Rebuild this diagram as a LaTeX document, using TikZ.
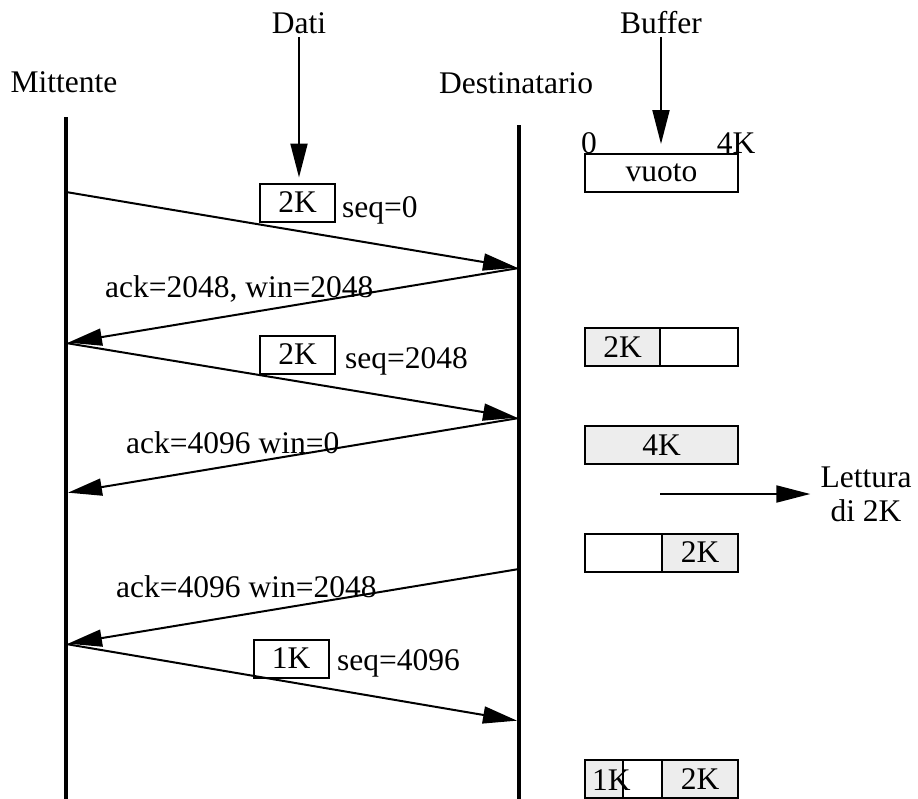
\documentclass[tikz,border=0pt]{standalone}
\usepackage{fontspec}
\setmainfont{Liberation Serif}
\usetikzlibrary{positioning,arrows.meta}
\definecolor{cellgray}{gray}{0.93}

\tikzset{
  msg/.style={line width=2pt, -{Triangle[length=34pt,width=17pt]}},
  life/.style={line width=4pt},
  pkt/.style={draw, line width=2pt, minimum width=75pt, minimum height=38pt, inner sep=0pt},
  cell/.style={draw, line width=2pt, minimum height=38pt, inner sep=0pt},
  lbl/.style={inner sep=0pt, anchor=base west},
}

\begin{document}
\begin{tikzpicture}[x=1pt, y=-1pt, font=\fontsize{31.5}{34}\selectfont]
  \useasboundingbox (0,0) rectangle (918,798);

  \node[anchor=base] (mitt) at (64,92) {Mittente};
  \node[anchor=base] (dest) at (516,93) {Destinatario};
  \node[anchor=base] (dati) at (299,33) {Dati};
  \node[anchor=base] (buf) at (661,33) {Buffer};

  \coordinate (mtop) at (66,117);
  \coordinate (mbot) at (66,802);
  \coordinate (dtop) at (519,125);
  \coordinate (dbot) at (519,802);
  \draw[life] (mtop) -- (mbot);
  \draw[life] (dtop) -- (dbot);

  \coordinate (m1) at (66,192);
  \coordinate (d1) at (519,268);
  \coordinate (m2) at (66,343);
  \coordinate (d2) at (519,418);
  \coordinate (m3) at (66,493);
  \coordinate (d3) at (519,569);
  \coordinate (m4) at (66,644);
  \coordinate (d4) at (519,721);

  \draw[msg, shorten >=2pt] (m1) -- (d1);
  \draw[msg, shorten >=2pt] (d1) -- (m2);
  \draw[msg, shorten >=2pt] (m2) -- (d2);
  \draw[msg, shorten >=2pt] (d2) -- (m3);
  \draw[msg, shorten >=2pt] (d3) -- (m4);
  \draw[msg, shorten >=2pt] (m4) -- (d4);

  \node[pkt] (p1) at (297.5,202.5) {2K};
  \node[lbl] (s1) at (342,217) {seq=0};
  \node[pkt] (p2) at (297.5,354.5) {2K};
  \node[lbl] (s2) at (345,368) {seq=2048};
  \node[pkt] (p3) at (291,658.5) {1K};
  \node[lbl] (s3) at (337,670) {seq=4096};

  \node[lbl] (a1) at (105,297) {ack=2048, win=2048};
  \node[lbl] (a2) at (126,453) {ack=4096 win=0};
  \node[lbl] (a3) at (116,597) {ack=4096 win=2048};

  \draw[msg, shorten >=5pt] (dati.south) -- (dati.south |- p1.north);

  \node[cell, minimum width=153pt] (b0) at (661.5,173) {vuoto};
  \node[anchor=base] (zero) at (589,153) {0};
  \node[anchor=base east] (full) at (759,153) {4K};
  \draw[msg, shorten >=9pt] (buf.south) -- (buf.south |- b0.north);

  \node[cell, fill=cellgray, minimum width=75pt] (b1a) at (622.5,347) {2K};
  \node[cell, minimum width=78pt] (b1b) at (699,347) {};

  \node[cell, fill=cellgray, minimum width=153pt] (b2) at (661.5,445) {4K};

  \node[cell, minimum width=77pt] (b3a) at (623.5,552.5) {};
  \node[cell, fill=cellgray, minimum width=76pt] (b3b) at (700,552.5) {2K};

  \node[cell, fill=cellgray, minimum width=38pt] (b4a) at (604,779) {};
  \node[cell, minimum width=39pt] (b4b) at (642.5,779) {};
  \node[cell, fill=cellgray, minimum width=76pt] (b4c) at (700,779) {2K};
  \node[lbl] (k1) at (592,790) {1K};

  \node[align=center, inner sep=0pt] (read) at (866,494) {Lettura\\di 2K};
  \coordinate (rd) at (660,494);
  \draw[msg, shorten >=10pt] (rd) -- (read);
\end{tikzpicture}
\end{document}
